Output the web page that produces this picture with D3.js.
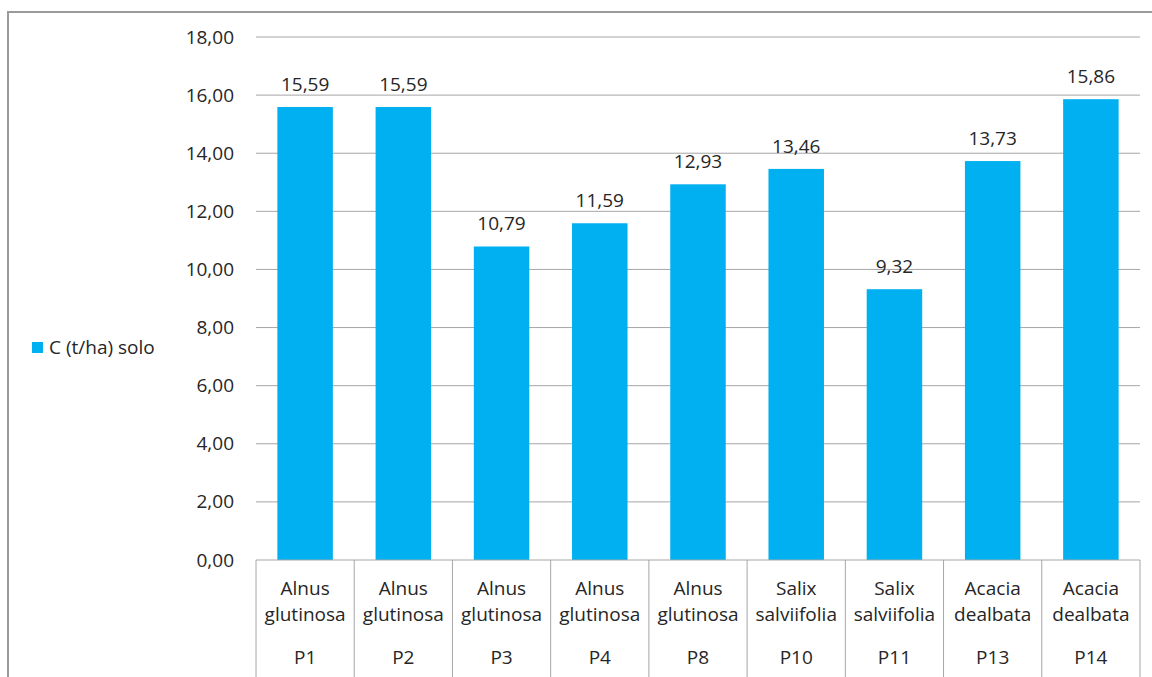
<!DOCTYPE html>
<html>
<head>
<meta charset="utf-8">
<script src="https://cdn.jsdelivr.net/npm/d3@7"></script>
<style>
  html, body { margin: 0; padding: 0; background: #fff; }
  svg { display: block; font-family: "Open Sans", "Noto Sans", sans-serif; }
</style>
</head>
<body>
<svg id="chart" width="1152" height="677"></svg>
<script>
// Soil carbon stock per plot (t/ha)
const plots = ["P1", "P2", "P3", "P4", "P8", "P10", "P11", "P13", "P14"];
const species = [
  ["Alnus", "glutinosa"], ["Alnus", "glutinosa"], ["Alnus", "glutinosa"],
  ["Alnus", "glutinosa"], ["Alnus", "glutinosa"], ["Salix", "salviifolia"],
  ["Salix", "salviifolia"], ["Acacia", "dealbata"], ["Acacia", "dealbata"]
];
const carbon = [15.59, 15.59, 10.79, 11.59, 12.93, 13.46, 9.32, 13.73, 15.86];
const yTicks = [0, 2, 4, 6, 8, 10, 12, 14, 16, 18];
const seriesName = "C (t/ha) solo";

const svg = d3.select("#chart");
const fmt = v => v.toFixed(2).replace(".", ",");

const plotLeft = 256, plotRight = 1140, plotTop = 37, plotBottom = 560;
const textColor = "#262626";
const gridColor = "#a6a6a6";
const barColor = "#00b0f0";
const fontSize = "19px";

// outer frame (open to the right and bottom)
svg.append("path")
  .attr("d", `M8,677 V12 H1152`)
  .attr("fill", "none")
  .attr("stroke", "#9a9a9a")
  .attr("stroke-width", 2);

const x = d3.scaleBand()
  .domain(plots)
  .range([plotLeft, plotRight])
  .paddingInner(0.435)
  .paddingOuter(0.2175);

const y = d3.scaleLinear().domain([0, 18]).range([plotBottom, plotTop]);

// horizontal gridlines
svg.append("g")
  .selectAll("line")
  .data(yTicks.filter(t => t > 0))
  .join("line")
  .attr("x1", plotLeft).attr("x2", plotRight)
  .attr("y1", d => y(d)).attr("y2", d => y(d))
  .attr("stroke", gridColor).attr("stroke-width", 1);

// y axis labels
const yAxis = svg.append("g")
  .attr("transform", `translate(${plotLeft - 22},0)`)
  .call(d3.axisLeft(y).tickValues(yTicks).tickFormat(fmt).tickSize(0).tickPadding(0));
yAxis.select(".domain").remove();
yAxis.selectAll("text")
  .attr("fill", textColor)
  .style("font-size", fontSize)
  .style("font-family", "\"Open Sans\", \"Noto Sans\", sans-serif");

// bars
svg.append("g")
  .selectAll("rect")
  .data(carbon)
  .join("rect")
  .attr("x", (d, i) => x(plots[i]))
  .attr("width", x.bandwidth())
  .attr("y", d => y(d))
  .attr("height", d => y(0) - y(d))
  .attr("fill", barColor);

// value labels
svg.append("g")
  .selectAll("text")
  .data(carbon)
  .join("text")
  .attr("x", (d, i) => x(plots[i]) + x.bandwidth() / 2)
  .attr("y", d => y(d) - 16)
  .attr("text-anchor", "middle")
  .attr("fill", textColor)
  .style("font-size", fontSize)
  .text(fmt);

// category axis: baseline and separators
const step = x.step();
svg.append("line")
  .attr("x1", plotLeft).attr("x2", plotRight)
  .attr("y1", plotBottom).attr("y2", plotBottom)
  .attr("stroke", gridColor).attr("stroke-width", 1);
svg.append("g")
  .selectAll("line")
  .data(d3.range(plots.length + 1))
  .join("line")
  .attr("x1", i => plotLeft + i * step).attr("x2", i => plotLeft + i * step)
  .attr("y1", plotBottom).attr("y2", 677)
  .attr("stroke", gridColor).attr("stroke-width", 1);

// category labels (species on two lines, plot below)
const cat = svg.append("g")
  .selectAll("g")
  .data(plots)
  .join("g")
  .attr("transform", (d, i) => `translate(${plotLeft + (i + 0.5) * step},0)`);
cat.append("text")
  .attr("y", 595)
  .attr("text-anchor", "middle").attr("fill", textColor)
  .style("font-size", fontSize)
  .text((d, i) => species[i][0]);
cat.append("text")
  .attr("y", 621)
  .attr("text-anchor", "middle").attr("fill", textColor)
  .style("font-size", fontSize)
  .text((d, i) => species[i][1]);
cat.append("text")
  .attr("y", 664)
  .attr("text-anchor", "middle").attr("fill", textColor)
  .style("font-size", fontSize)
  .text(d => d);

// legend
const legend = svg.append("g").attr("transform", "translate(32,342)");
legend.append("rect")
  .attr("width", 11).attr("height", 11)
  .attr("fill", barColor);
legend.append("text")
  .attr("x", 17).attr("y", 12)
  .attr("fill", textColor)
  .style("font-size", fontSize)
  .text(seriesName);
</script>
</body>
</html>
